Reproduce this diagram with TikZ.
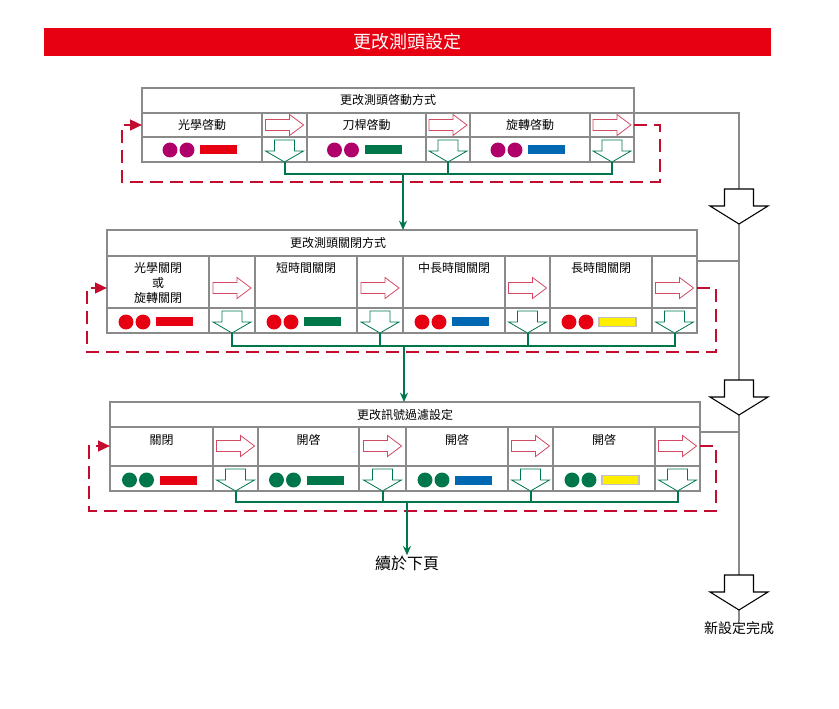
\documentclass[tikz,border=0pt]{standalone}
\usepackage{fontspec}
\setmainfont{Noto Sans CJK TC}
\usepackage{tikz}
\usetikzlibrary{arrows.meta}
\definecolor{titlered}{HTML}{E60012}
\definecolor{loopred}{HTML}{C40D2E}
\definecolor{flowgreen}{HTML}{00774A}
\definecolor{framegray}{HTML}{8A8A8A}
\definecolor{dotmag}{HTML}{B0006A}
\definecolor{barblue}{HTML}{0068B2}
\definecolor{baryellow}{HTML}{FFEE00}
\newcommand{\dotbar}[4]{%
  \fill[#3] (#1-32,#2) circle (5.6pt) (#1-15,#2) circle (5.6pt);
  \path[#4] (#1-2,#2-4.5) rectangle (#1+35,#2+4.5);}

\begin{document}
\begin{tikzpicture}[x=0.75pt, y=-0.75pt, >=Stealth,
    frame/.style={draw=framegray, line width=1.6pt},
    grid/.style={draw=framegray, line width=0.8pt},
    rail/.style={draw=framegray, line width=1.2pt},
    loopline/.style={draw=loopred, line width=1.7pt, dash pattern=on 10pt off 5pt,
      -{Triangle[length=9pt, width=8pt]}},
    flow/.style={draw=flowgreen, line width=1.5pt},
    lbl/.style={inner sep=0pt, font=\fontsize{9}{11.25}\selectfont, align=center},
    bred/.style={fill=titlered}, bgreen/.style={fill=flowgreen},
    bblue/.style={fill=barblue},
    byellow/.style={fill=baryellow, draw=black!25, line width=0.8pt},
    rarr/.pic={\draw[draw=loopred!75, fill=white, line width=0.6pt]
      (-19,-5.5) -- (5,-5.5) -- (5,-10.5) -- (19,0) -- (5,10.5) -- (5,5.5) -- (-19,5.5) -- cycle;},
    darr/.pic={\draw[draw=flowgreen, fill=white, line width=0.6pt]
      (-10,-22) -- (10,-22) -- (10,-11) -- (19,-11) -- (0,0) -- (-19,-11) -- (-10,-11) -- cycle;},
    bigarr/.pic={\draw[draw=black, fill=white, line width=0.8pt]
      (-14.5,-35) -- (14.5,-35) -- (14.5,-18) -- (29,-18) -- (0,0) -- (-29,-18) -- (-14.5,-18) -- cycle;}]
  \useasboundingbox (0,0) rectangle (839,709);

  \fill[titlered] (44,28) rectangle (771,56);
  \node[text=white, font=\fontsize{13.5}{15}\selectfont] (title) at (407,42) {更改測頭設定};

  % box 1
  \draw[frame] (142,88) rectangle (634,162);
  \foreach \y in {113,137} \draw[grid] (142,\y) -- (634,\y);
  \foreach \x in {262,307,426,470,590} \draw[grid] (\x,113) -- (\x,162);
  \node[lbl] (h1) at (388,100) {更改測頭啓動方式};
  \foreach \n/\x/\t/\b in {1/202/光學啓動/bred, 2/366.5/刀桿啓動/bgreen, 3/530/旋轉啓動/bblue} {
    \node[lbl] (s1-\n) at (\x,125) {\t};
    \dotbar{\x}{150}{dotmag}{\b}
  }
  \foreach \n/\x in {1/284.5, 2/448, 3/612} {
    \pic at (\x,125) {rarr};
    \pic at (\x,162) {darr};
    \coordinate (d1-\n) at (\x,162);
  }

  % box 2
  \draw[frame] (107,230) rectangle (697,333);
  \foreach \y in {256,308} \draw[grid] (107,\y) -- (697,\y);
  \foreach \x in {209,255,357,403,505,550,652} \draw[grid] (\x,256) -- (\x,333);
  \node[lbl] (h2) at (338,243) {更改測頭關閉方式};
  \foreach \n/\x/\t/\b in {1/158/{光學關閉\\或\\旋轉關閉}/bred, 2/306/短時間關閉/bgreen,
      3/454/中長時間關閉/bblue, 4/601/長時間關閉/byellow} {
    \node[lbl, anchor=north] (s2-\n) at (\x,262) {\t};
    \dotbar{\x}{322}{titlered}{\b}
  }
  \foreach \n/\x in {1/232, 2/380, 3/527.5, 4/674.5} {
    \pic at (\x,288) {rarr};
    \pic at (\x,333) {darr};
    \coordinate (d2-\n) at (\x,333);
  }

  % box 3
  \draw[frame] (110,402) rectangle (700,491);
  \foreach \y in {427,466} \draw[grid] (110,\y) -- (700,\y);
  \foreach \x in {213,258,359,406,508,553,655} \draw[grid] (\x,427) -- (\x,491);
  \node[lbl] (h3) at (405,414.5) {更改訊號過濾設定};
  \foreach \n/\x/\t/\b in {1/161.5/關閉/bred, 2/308.5/開啓/bgreen, 3/457/開啓/bblue, 4/604/開啓/byellow} {
    \node[lbl] (s3-\n) at (\x,440) {\t};
    \dotbar{\x}{480}{flowgreen}{\b}
  }
  \foreach \n/\x in {1/235.5, 2/382.5, 3/530.5, 4/677.5} {
    \pic at (\x,446) {rarr};
    \pic at (\x,491) {darr};
    \coordinate (d3-\n) at (\x,491);
  }

  % loops back to the first column
  \coordinate (o1) at (634,125); \coordinate (i1) at (142,125);
  \coordinate (o2) at (697,288); \coordinate (i2) at (107,288);
  \coordinate (o3) at (700,446); \coordinate (i3) at (110,446);
  \draw[loopline] (o1) -- (660,125) |- (122,182) |- (i1);
  \draw[loopline] (o2) -- (716,288) |- (87,352) |- (i2);
  \draw[loopline] (o3) -- (716,446) |- (89,511) |- (i3);

  % green flow down
  \node[font=\fontsize{12}{14}\selectfont, inner sep=0pt] (cont) at (407,563) {續於下頁};
  \coordinate (j1) at (403,174); \coordinate (t2) at (403,230);
  \coordinate (j2) at (404,346); \coordinate (t3) at (404,402);
  \coordinate (j3) at (407,502);
  \draw[flow] (d1-1) |- (j1) (d1-3) |- (j1) (d1-2) -- (d1-2 |- j1);
  \draw[flow] (d2-1) |- (j2) (d2-4) |- (j2) (d2-2) -- (d2-2 |- j2) (d2-3) -- (d2-3 |- j2);
  \draw[flow] (d3-1) |- (j3) (d3-4) |- (j3) (d3-2) -- (d3-2 |- j3) (d3-3) -- (d3-3 |- j3);
  \draw[flow, -{Stealth[length=7pt, width=6pt]}] (j1) -- (t2);
  \draw[flow, -{Stealth[length=7pt, width=6pt]}] (j2) -- (t3);
  \draw[flow, -{Stealth[length=7pt, width=6pt]}] (j3) -- (cont.north);

  % exit rail
  \node[font=\fontsize{10.5}{12}\selectfont, inner sep=0pt] (done) at (739,628) {新設定完成};
  \coordinate (r1) at (634,113); \coordinate (r2) at (697,261); \coordinate (r3) at (700,432);
  \draw[rail] (r1) -| (done.north);
  \draw[rail] (r2) -- (r2 -| done) (r3) -- (r3 -| done);
  \foreach \y in {224,415,610} \pic at (739,\y) {bigarr};
\end{tikzpicture}
\end{document}
